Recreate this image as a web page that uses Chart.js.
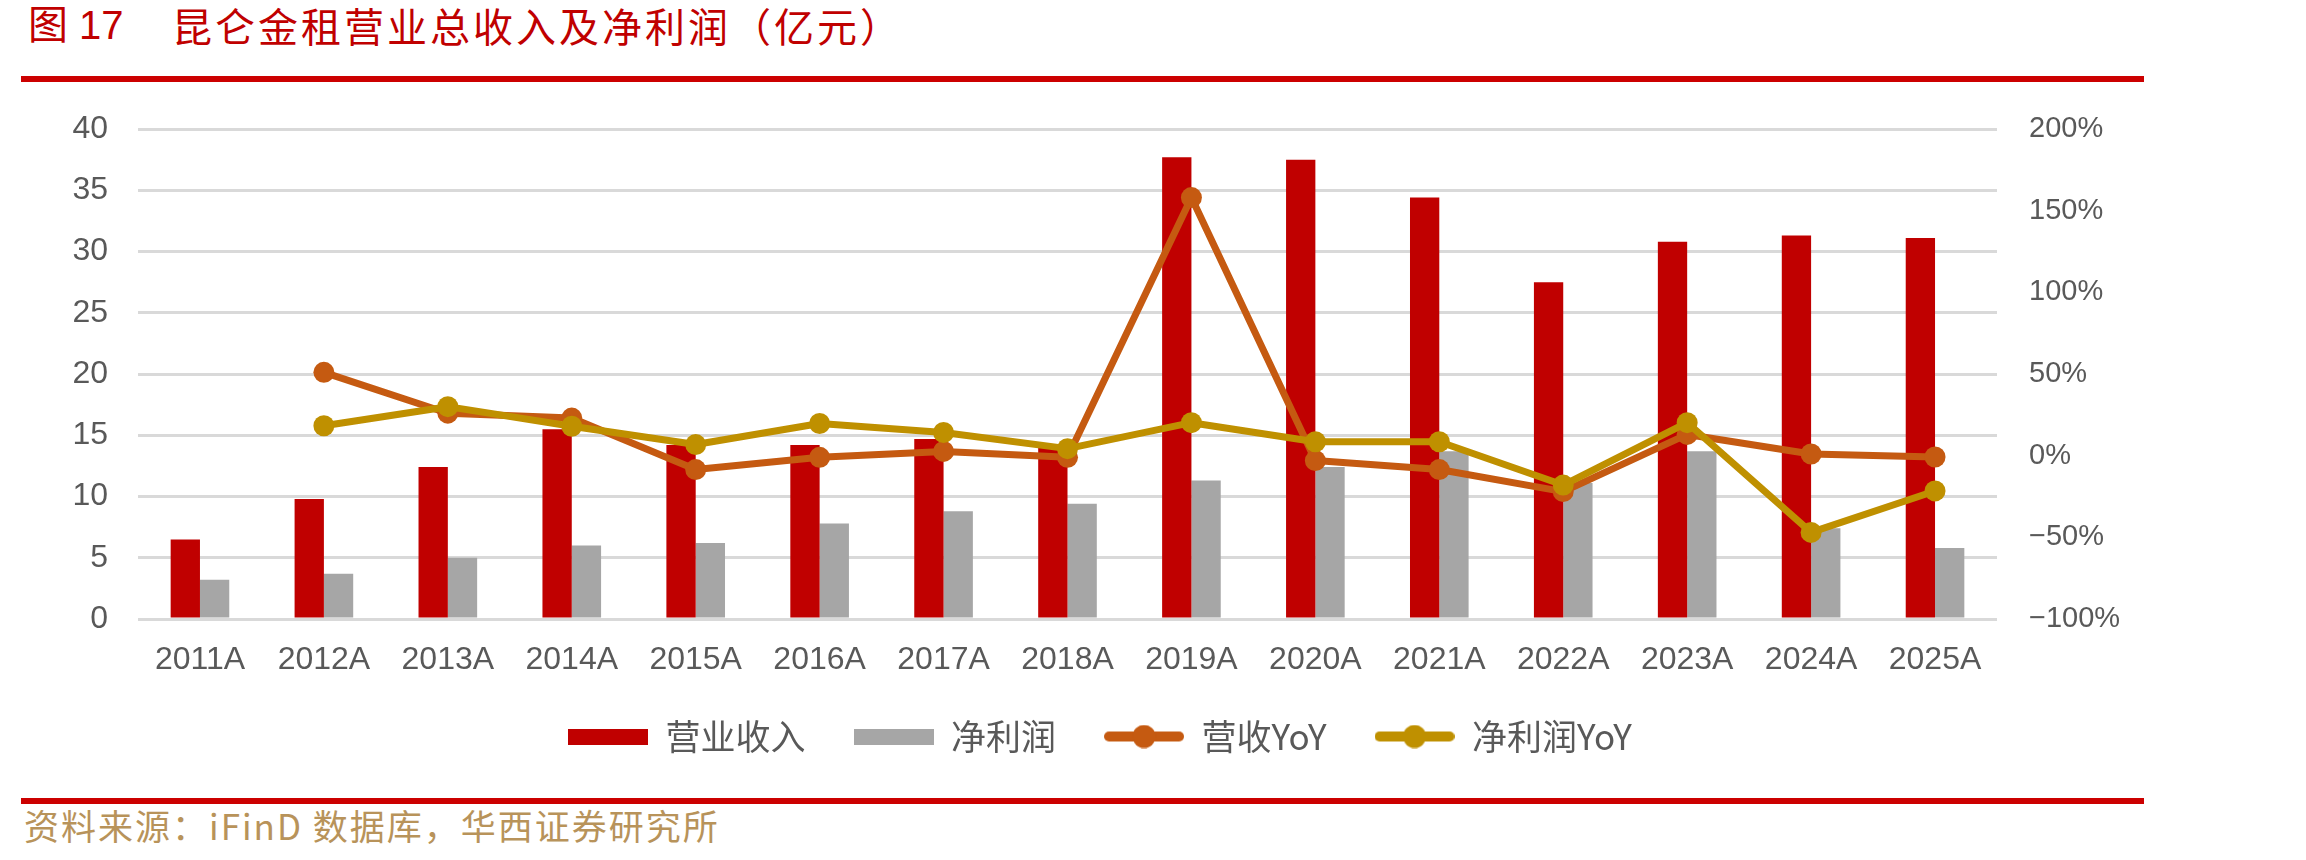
<!DOCTYPE html>
<html>
<head>
<meta charset="utf-8">
<script src="https://cdn.jsdelivr.net/npm/chart.js@4.4.1/dist/chart.umd.min.js"></script>
<style>
  html, body { margin:0; padding:0; background:#fff; width:2306px; height:860px; overflow:hidden; position:relative; font-family:"Noto Sans CJK SC", sans-serif; }
  #title { position:absolute; left:0; top:5px; width:1200px; height:40px; color:#C00000; font-size:40px; line-height:40px; white-space:nowrap; }
  #t1 { position:absolute; left:28px; top:0; font-family:"Liberation Sans","Noto Sans CJK SC",sans-serif; }
  #t2 { position:absolute; left:172px; top:0; letter-spacing:3px; }
  .rule { position:absolute; left:21px; width:2123px; height:6px; background:#CC0000; }
  #footer { position:absolute; left:24px; top:807px; font-size:35px; line-height:35px; color:#B8935A; letter-spacing:2px; white-space:nowrap; }
  #wrap { position:absolute; left:0; top:69px; width:2200px; height:695px; }
</style>
</head>
<body>
<div id="title"><span id="t1">图 17</span><span id="t2">昆仑金租营业总收入及净利润（亿元）</span></div>
<div class="rule" style="top:76px"></div>
<div id="wrap"><canvas id="c" width="2200" height="695"></canvas></div>
<div class="rule" style="top:798px"></div>
<div id="footer">资料来源：iFinD 数据库，华西证券研究所</div>
<script>
// ---- data ----
const categories = ['2011A','2012A','2013A','2014A','2015A','2016A','2017A','2018A','2019A','2020A','2021A','2022A','2023A','2024A','2025A'];
const seriesNames = ['营业收入','净利润','营收YoY','净利润YoY'];
const revenue   = [6.5, 9.8, 12.4, 15.5, 14.2, 14.2, 14.7, 14.2, 37.7, 37.5, 34.4, 27.5, 30.8, 31.3, 31.1];
const netProfit = [3.2, 3.7, 5.0, 6.0, 6.2, 7.8, 8.8, 9.4, 11.3, 12.4, 13.7, 11.1, 13.7, 7.4, 5.8];
const revenueYoY = [null, 51, 26, 23, -8.5, -1, 2.6, -1, 158, -3, -8.5, -22, 13, 1, -0.8];
const profitYoY  = [null, 18.3, 30, 18, 6.8, 19.7, 14.2, 4.3, 20.2, 8.5, 8.5, -18, 20.2, -47, -21.6];
const leftTicks  = [0, 5, 10, 15, 20, 25, 30, 35, 40];
const rightTicks = [-100, -50, 0, 50, 100, 150, 200];

// ---- styles ----
const C_REV = '#C00000', C_NP = '#A6A6A6', C_REVY = '#C55A11', C_NPY = '#BF9000';
const TXT = '#595959';

function boxImg(color) {
  const c = document.createElement('canvas'); c.width = 80; c.height = 16;
  const g = c.getContext('2d'); g.fillStyle = color; g.fillRect(0, 0, 80, 16); return c;
}
function lineImg(color) {
  const c = document.createElement('canvas'); c.width = 80; c.height = 24;
  const g = c.getContext('2d');
  g.strokeStyle = color; g.lineWidth = 10; g.lineCap = 'round';
  g.beginPath(); g.moveTo(5, 12); g.lineTo(75, 12); g.stroke();
  g.fillStyle = color; g.beginPath(); g.arc(40, 12, 11.5, 0, Math.PI * 2); g.fill();
  return c;
}
const legendImgs = [boxImg(C_REV), boxImg(C_NP), lineImg(C_REVY), lineImg(C_NPY)];

const tickFontLeft = { family: '"Liberation Sans", Arial, sans-serif', size: 32 };
const tickFontX = { family: '"Liberation Sans", Arial, sans-serif', size: 32 };
const tickFontRight = { family: '"Liberation Sans", Arial, sans-serif', size: 29 };

new Chart(document.getElementById('c'), {
  data: {
    labels: categories,
    datasets: [
      { type: 'bar', label: seriesNames[0], data: revenue, backgroundColor: C_REV, yAxisID: 'y', order: 2,
        categoryPercentage: 0.473, barPercentage: 1.0 },
      { type: 'bar', label: seriesNames[1], data: netProfit, backgroundColor: C_NP, yAxisID: 'y', order: 3,
        categoryPercentage: 0.473, barPercentage: 1.0 },
      { type: 'line', label: seriesNames[2], data: revenueYoY, borderColor: C_REVY, backgroundColor: C_REVY,
        borderWidth: 7, pointRadius: 10.5, pointHoverRadius: 10.5, pointBorderWidth: 0, pointBackgroundColor: C_REVY,
        borderJoinStyle: 'round', borderCapStyle: 'round', yAxisID: 'y1', order: 1, tension: 0 },
      { type: 'line', label: seriesNames[3], data: profitYoY, borderColor: C_NPY, backgroundColor: C_NPY,
        borderWidth: 7, pointRadius: 10.5, pointHoverRadius: 10.5, pointBorderWidth: 0, pointBackgroundColor: C_NPY,
        borderJoinStyle: 'round', borderCapStyle: 'round', yAxisID: 'y1', order: 0, tension: 0 }
    ]
  },
  options: {
    responsive: false,
    animation: false,
    devicePixelRatio: 1,
    events: [],
    layout: { padding: { top: 60, left: 0, right: 0, bottom: 0 } },
    plugins: {
      tooltip: { enabled: false },
      title: { display: false },
      legend: {
        position: 'bottom',
        align: 'center',
        labels: {
          usePointStyle: true,
          pointStyleWidth: 80,
          boxHeight: 16,
          padding: 48,
          color: TXT,
          font: { family: '"Noto Sans CJK SC", sans-serif', size: 35 },
          sort: (a, b) => a.datasetIndex - b.datasetIndex,
          generateLabels: (chart) => {
            const items = Chart.defaults.plugins.legend.labels.generateLabels(chart);
            items.forEach(it => { it.pointStyle = legendImgs[it.datasetIndex]; });
            return items;
          }
        }
      }
    },
    scales: {
      x: {
        grid: { display: false, drawTicks: false },
        border: { display: false },
        ticks: { color: TXT, font: tickFontX, padding: 22, maxRotation: 0, autoSkip: false },
        afterFit: (s) => { s.height = 52; }
      },
      y: {
        position: 'left',
        min: leftTicks[0], max: leftTicks[leftTicks.length - 1],
        afterBuildTicks: (s) => { s.ticks = leftTicks.map(v => ({ value: v })); },
        grid: { color: '#D9D9D9', lineWidth: 3, drawTicks: false },
        border: { display: false },
        ticks: { color: TXT, font: tickFontLeft, padding: 30 },
        afterFit: (s) => { s.width = 138; }
      },
      y1: {
        position: 'right',
        min: rightTicks[0], max: rightTicks[rightTicks.length - 1],
        afterBuildTicks: (s) => { s.ticks = rightTicks.map(v => ({ value: v })); },
        grid: { display: false, drawTicks: false },
        border: { display: false },
        ticks: { color: TXT, font: tickFontRight, padding: 32,
          callback: (v) => (v < 0 ? '\u2212' + Math.abs(v) : v) + '%' },
        afterFit: (s) => { s.width = 203; }
      }
    }
  }
});
</script>
</body>
</html>
